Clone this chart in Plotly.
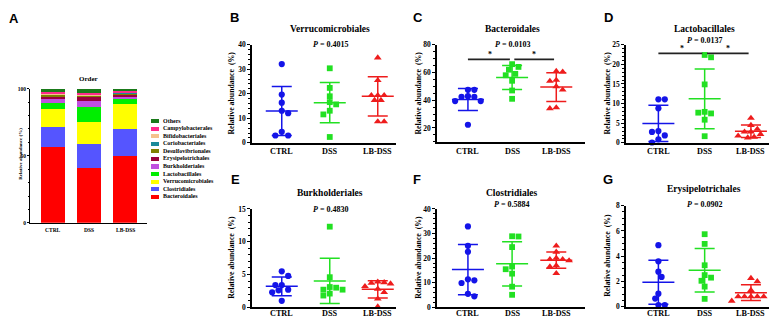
import numpy as np
import plotly.graph_objects as go

W, H = 777, 317
SERIF = "Liberation Serif"
SANS = "Liberation Sans"

# ---------------- data ----------------
groups = ["CTRL", "DSS", "LB-DSS"]

orders = ["Bacteroidales", "Clostridiales", "Verrucomicrobiales", "Lactobacillales",
          "Burkholderiales", "Erysipelotrichales", "Desulfovibrionales", "Coriobacteriales",
          "Bifidobacteriales", "Campylobacterales", "Others"]
ctrl_comp = [56.3, 15.4, 13.1, 4.8, 3.4, 1.0, 1.6, 0.4, 0.6, 0.7, 2.7]
dss_comp = [41.0, 17.7, 16.4, 11.1, 4.8, 2.5, 1.5, 0.4, 0.5, 0.9, 3.2]
lbdss_comp = [49.8, 20.0, 18.8, 3.9, 2.2, 1.3, 1.0, 0.3, 0.4, 0.3, 2.0]
order_colors = ["#ff0000", "#5555ff", "#ffff00", "#00ee00", "#c050e0", "#99003d",
                "#7f7f00", "#1b8a99", "#f5c28c", "#ff2a8a", "#1a7a1a"]

verruco_ctrl = [32.1, 19.7, 16.4, 13.1, 12.1, 4.5, 3.0, 3.0]
verruco_dss = [30.4, 22.4, 19.0, 16.6, 15.7, 13.1, 11.6, 2.4]
verruco_lbdss = [34.7, 25.5, 19.4, 19.4, 19.4, 17.4, 17.4, 8.7, 8.7]

bactero_ctrl = [47.5, 47.5, 42.9, 42.4, 42.4, 39.4, 39.4, 22.3]
bactero_dss = [66.0, 64.0, 62.0, 59.0, 58.0, 54.0, 47.0, 41.0]
bactero_lbdss = [60.9, 60.4, 54.5, 53.8, 49.9, 47.5, 34.7, 34.0]

lacto_ctrl = [11.1, 11.1, 8.8, 3.0, 2.8, 1.9, 0.9, 0.1]
lacto_dss = [22.4, 21.8, 14.9, 7.9, 7.7, 7.5, 5.9, 1.7]
lacto_lbdss = [6.3, 4.5, 3.5, 2.8, 2.8, 2.2, 1.8, 1.5, 1.3]

burk_ctrl = [5.5, 4.8, 3.4, 3.4, 2.7, 2.6, 2.3, 1.0]
burk_dss = [12.3, 4.6, 3.1, 3.0, 2.7, 2.7, 2.1, 1.8]
burk_lbdss = [3.9, 3.8, 3.7, 3.6, 3.2, 2.8, 2.3, 1.3, 0.1]

clost_ctrl = [32.9, 25.0, 22.6, 11.4, 11.0, 9.9, 5.5, 4.5]
clost_dss = [28.9, 28.8, 24.5, 16.6, 15.5, 13.7, 8.4, 5.1]
clost_lbdss = [25.0, 22.5, 20.0, 19.5, 19.5, 19.0, 17.0, 16.5, 13.8]

erysi_ctrl = [4.87, 3.59, 2.77, 2.36, 1.03, 0.64, 0.13, 0.13]
erysi_dss = [5.74, 4.97, 3.28, 2.5, 2.3, 2.05, 1.59, 0.62]
erysi_lbdss = [2.25, 2.0, 1.3, 0.8, 0.8, 0.8, 0.8, 0.8, 0.45]

panel_titles = ["Verrucomicrobiales", "Bacteroidales", "Lactobacillales",
                "Burkholderiales", "Clostridiales", "Erysipelotrichales"]
p_values = ["0.4015", "0.0103", "0.0137", "0.4830", "0.5884", "0.0902"]
# significance: (group a, group b, bar level)
sig_bactero = [(0, 1, 69.5), (1, 2, 69.5)]
sig_lacto = [(0, 1, 22.8), (1, 2, 22.8)]

# ---------------- helpers ----------------
def xd(a, b):
    return [a / W, b / W]

def yd(top, bot):
    return [1 - bot / H, 1 - top / H]

def px(x):
    return x / W

def py(y):
    return 1 - y / H

def swarm(vals, ys_px, d):
    vals = list(vals)
    order = np.argsort(-np.asarray(vals), kind="stable")
    placed = []
    offs = [0.0] * len(vals)
    for i in order:
        yv = vals[i] * ys_px
        chosen = 0.0
        for k in range(0, 60):
            cands = [0.0] if k == 0 else [k * d / 2, -k * d / 2]
            ok = [c for c in cands
                  if all((c - xo) ** 2 + (yv - yo) ** 2 >= (0.92 * d) ** 2 for xo, yo in placed)]
            if ok:
                if len(ok) == 2:
                    left = sum(1 for xo, _ in placed if xo < 0)
                    right = sum(1 for xo, _ in placed if xo > 0)
                    chosen = ok[1] if right > left else ok[0]
                else:
                    chosen = ok[0]
                break
        placed.append((chosen, yv))
        offs[i] = chosen
    return offs

fig = go.Figure()
layout = dict(width=W, height=H, margin=dict(l=0, r=0, t=0, b=0),
              paper_bgcolor="white", plot_bgcolor="white", showlegend=False,
              barmode="stack", annotations=[])
ann = layout["annotations"]

def text(x, y, s, size, family=SERIF, weight="bold", angle=0, xanchor="center"):
    ann.append(dict(x=px(x), y=py(y), xref="paper", yref="paper", text=s, showarrow=False,
                    xanchor=xanchor, yanchor="middle", textangle=angle,
                    font=dict(family=family, size=size, color="black", weight=weight)))

def cat_labels(xa, y, size):
    for g, name in enumerate(groups):
        ann.append(dict(x=g, y=py(y), xref=xa, yref="paper", text=name, showarrow=False,
                        xanchor="center", yanchor="middle",
                        font=dict(family=SERIF, size=size, color="black", weight="bold")))

# ---------------- Panel A ----------------
comps = [ctrl_comp, dss_comp, lbdss_comp]
for i, name in enumerate(orders):
    fig.add_trace(go.Bar(x=[0, 1, 2], y=[c[i] for c in comps], name=name,
                         marker=dict(color=order_colors[i], line=dict(width=0)),
                         width=0.67, xaxis="x", yaxis="y", hoverinfo="skip"))
layout["xaxis"] = dict(domain=xd(22, 139), range=[-0.64, 2.61], anchor="y",
                       tickvals=[0, 1, 2], showticklabels=False, showline=True, linecolor="black",
                       linewidth=1, ticks="", showgrid=False, zeroline=False)
layout["yaxis"] = dict(domain=yd(79, 217), range=[0, 100], anchor="x", tickvals=[0, 50, 100],
                       showline=True, linecolor="black", linewidth=1, ticks="outside",
                       ticklen=2, tickwidth=1, tickcolor="black", showgrid=False, zeroline=False,
                       minor=dict(dtick=10, ticks="outside", ticklen=1.5, tickwidth=0.8,
                                  tickcolor="black", showgrid=False),
                       tickfont=dict(family=SERIF, size=5.5, weight="bold", color="black"))
cat_labels("x", 224, 5.5)
text(80, 69, "Order", 7)
text(13, 146, "Relative abundance (%)", 5, angle=-90)
text(6, 7, "A", 13, family=SANS)

# legend for A (drawn as its own small bar + text layer)
leg_idx = list(range(len(orders)))
fig.add_trace(go.Bar(x=[8] * len(orders), y=leg_idx, orientation="h", width=0.55,
                     marker=dict(color=order_colors, line=dict(width=0)),
                     xaxis="x8", yaxis="y8", hoverinfo="skip"))
fig.add_trace(go.Scatter(x=[12] * len(orders), y=leg_idx, text=orders, mode="text",
                         textposition="middle right", cliponaxis=False,
                         textfont=dict(family=SERIF, size=6, color="black", weight="bold"),
                         xaxis="x8", yaxis="y8", hoverinfo="skip"))
layout["xaxis8"] = dict(domain=xd(143, 243), range=[0, 100], visible=False, anchor="y8")
layout["yaxis8"] = dict(domain=yd(108.5, 194), range=[-0.5, 10.5], visible=False, anchor="x8")

# ---------------- scatter panels ----------------
series = [
    (verruco_ctrl, verruco_dss, verruco_lbdss),
    (bactero_ctrl, bactero_dss, bactero_lbdss),
    (lacto_ctrl, lacto_dss, lacto_lbdss),
    (burk_ctrl, burk_dss, burk_lbdss),
    (clost_ctrl, clost_dss, clost_lbdss),
    (erysi_ctrl, erysi_dss, erysi_lbdss),
]
sigs = [[], sig_bactero, sig_lacto, [], [], []]
specs = [
    dict(xp=(244, 388), xr=(-0.62, 2.38), yp=(33.7, 134.7), yr=(0, 40), dt=10, mdt=2, lab=143.5,
         letter=("B", 226, 6), title=(322, 17), p=(322, 33), ytitle=(224, 84)),
    dict(xp=(429, 577), xr=(-0.7, 2.65), yp=(33.7, 134.3), yr=(9.5, 80), dt=20, mdt=5, lab=143.5,
         letter=("C", 410, 6), title=(504, 17), p=(504, 33), ytitle=(411, 84)),
    dict(xp=(618, 773), xr=(-0.7, 2.65), yp=(33.7, 134.7), yr=(0, 25), dt=5, mdt=1, lab=143.5,
         letter=("D", 600, 6), title=(696, 17), p=(696, 29), ytitle=(600, 84)),
    dict(xp=(244, 388), xr=(-0.62, 2.38), yp=(202.7, 304), yr=(0, 15), dt=5, mdt=1, lab=310.8,
         letter=("E", 227, 172), title=(322, 186), p=(322, 203), ytitle=(224, 253)),
    dict(xp=(429, 577), xr=(-0.7, 2.65), yp=(202.7, 304), yr=(0, 40), dt=10, mdt=2, lab=310.8,
         letter=("F", 409, 172), title=(503, 186), p=(503, 198), ytitle=(411, 253)),
    dict(xp=(618, 773), xr=(-0.7, 2.65), yp=(199.3, 303.3), yr=(0, 8), dt=2, mdt=0.5, lab=310.8,
         letter=("G", 600, 172), title=(696, 182), p=(696, 198), ytitle=(600, 251)),
]
colors = ["#1414e8", "#22e022", "#ee1c1c"]
symbols = ["circle", "square", "triangle-up"]
msizes = [6.2, 5.8, 6.8]

for k, (sp, data) in enumerate(zip(specs, series)):
    n = k + 2
    xa, ya = f"x{n}", f"y{n}"
    xs = (sp["xp"][1] - sp["xp"][0]) / (sp["xr"][1] - sp["xr"][0])
    ys = (sp["yp"][1] - sp["yp"][0]) / (sp["yr"][1] - sp["yr"][0])
    for g, vals in enumerate(data):
        v = np.asarray(vals, dtype=float)
        m, s = v.mean(), v.std(ddof=1)
        hw, cw = 16 / xs, 10 / xs
        lx = [g - hw, g + hw, None, g, g, None, g - cw, g + cw, None, g - cw, g + cw]
        ly = [m, m, None, m - s, m + s, None, m + s, m + s, None, m - s, m - s]
        fig.add_trace(go.Scatter(x=lx, y=ly, mode="lines", xaxis=xa, yaxis=ya,
                                 line=dict(color=colors[g], width=1.5), hoverinfo="skip",
                                 cliponaxis=False))
        offs = swarm(vals, ys, 6.4)
        fig.add_trace(go.Scatter(x=[g + o / xs for o in offs], y=vals, mode="markers",
                                 xaxis=xa, yaxis=ya, cliponaxis=False, hoverinfo="skip",
                                 marker=dict(symbol=symbols[g], size=msizes[g], color=colors[g],
                                             line=dict(width=0))))
    for (a, b, lvl) in sigs[k]:
        gap = 0.05
        fig.add_trace(go.Scatter(x=[a + (gap if a > 0 else 0), b - gap], y=[lvl, lvl],
                                 mode="lines", xaxis=xa, yaxis=ya, cliponaxis=False,
                                 line=dict(color="#222222", width=1.8), hoverinfo="skip"))
        ann.append(dict(x=(a + b) / 2, y=lvl, xref=xa, yref=ya, text="*", showarrow=False,
                        yanchor="bottom", yshift=-2,
                        font=dict(family=SERIF, size=8, color="black", weight="bold")))
    layout[f"xaxis{n}"] = dict(domain=xd(*sp["xp"]), range=list(sp["xr"]), anchor=ya,
                               tickvals=[0, 1, 2], showticklabels=False, showline=True,
                               linecolor="black", linewidth=1.5, ticks="", showgrid=False,
                               zeroline=False)
    layout[f"yaxis{n}"] = dict(domain=yd(*sp["yp"]), range=list(sp["yr"]), anchor=xa,
                               tick0=0, dtick=sp["dt"], showline=True, linecolor="black",
                               linewidth=1.5, ticks="outside", ticklen=3, tickwidth=1.3,
                               tickcolor="black", showgrid=False, zeroline=False,
                               minor=dict(tick0=0, dtick=sp["mdt"], ticks="outside", ticklen=1.8,
                                          tickwidth=1, tickcolor="black", showgrid=False),
                               tickfont=dict(family=SERIF, size=7.5, weight="bold", color="black"))
    cat_labels(xa, sp["lab"], 8.2)
    L = sp["letter"]
    text(L[1], L[2], L[0], 13, family=SANS)
    text(sp["title"][0], sp["title"][1], panel_titles[k], 9.5)
    text(sp["p"][0], sp["p"][1], "<i>P</i> = " + p_values[k], 8)
    text(sp["ytitle"][0], sp["ytitle"][1], "Relative abundance  (%)", 7.8, angle=-90)

fig.update_layout(**layout)
fig.write_html("out.html")
